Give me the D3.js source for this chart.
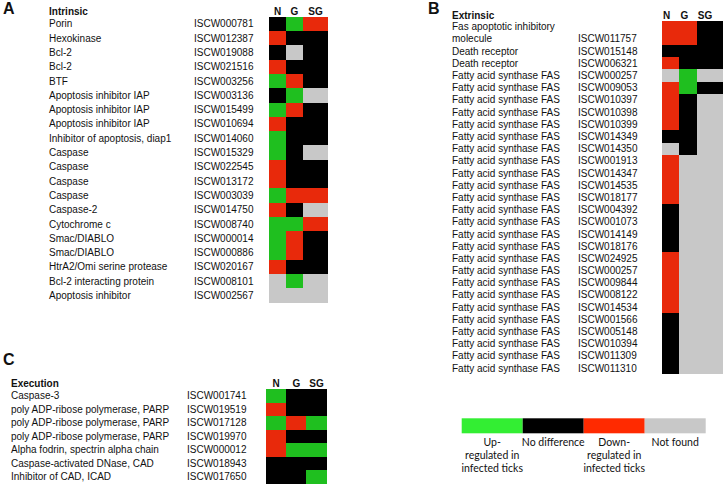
<!DOCTYPE html>
<html>
<head>
<meta charset="utf-8">
<script src="https://cdn.jsdelivr.net/npm/d3@7"></script>
<style>
  body { margin: 0; background: #fff; }
  svg text { font-family: "Liberation Sans", Arial, sans-serif; fill: #111; }
</style>
</head>
<body>
<svg id="chart" width="723" height="484"></svg>
<script>
// up = up-regulated, no = no difference, down = down-regulated, nf = not found
var columns = ["N", "G", "SG"];

var intrinsicLabels = ["Porin", "Hexokinase", "Bcl-2", "Bcl-2", "BTF", "Apoptosis inhibitor IAP",
    "Apoptosis inhibitor IAP", "Apoptosis inhibitor IAP", "Inhibitor of apoptosis, diap1", "Caspase",
    "Caspase", "Caspase", "Caspase", "Caspase-2", "Cytochrome c", "Smac/DIABLO", "Smac/DIABLO",
    "HtrA2/Omi serine protease", "Bcl-2 interacting protein", "Apoptosis inhibitor"];
var intrinsicIds = ["ISCW000781", "ISCW012387", "ISCW019088", "ISCW021516", "ISCW003256", "ISCW003136",
    "ISCW015499", "ISCW010694", "ISCW014060", "ISCW015329", "ISCW022545", "ISCW013172", "ISCW003039",
    "ISCW014750", "ISCW008740", "ISCW000014", "ISCW000886", "ISCW020167", "ISCW008101", "ISCW002567"];
var intrinsicN  = ["no","down","no","down","up","no","up","down","up","up","down","down","up","down","up","up","up","down","nf","nf"];
var intrinsicG  = ["up","no","nf","no","down","up","down","no","no","no","no","no","down","no","up","down","down","no","up","nf"];
var intrinsicSG = ["down","no","no","no","no","nf","no","no","no","nf","no","no","down","nf","down","no","no","no","nf","nf"];

var extrinsicLabels = ["Fas apoptotic inhibitory\nmolecule", "Death receptor", "Death receptor"]
    .concat(d3.range(25).map(function () { return "Fatty acid synthase FAS"; }));
var extrinsicIds = ["ISCW011757", "ISCW015148", "ISCW006321", "ISCW000257", "ISCW009053", "ISCW010397",
    "ISCW010398", "ISCW010399", "ISCW014349", "ISCW014350", "ISCW001913", "ISCW014347", "ISCW014535",
    "ISCW018177", "ISCW004392", "ISCW001073", "ISCW014149", "ISCW018176", "ISCW024925", "ISCW000257",
    "ISCW009844", "ISCW008122", "ISCW014534", "ISCW001566", "ISCW005148", "ISCW010394", "ISCW011309",
    "ISCW011310"];
var extrinsicN  = ["down","no","down","nf","down","down","down","down","no","nf","down","down","down","down",
    "no","no","no","no","down","down","down","down","down","no","no","no","no","no"];
var extrinsicG  = ["down","no","no","up","up","no","no","no","no","no","nf","nf","nf","nf",
    "nf","nf","nf","nf","nf","nf","nf","nf","nf","nf","nf","nf","nf","nf"];
var extrinsicSG = ["no","no","no","nf","no","nf","nf","nf","nf","nf","nf","nf","nf","nf",
    "nf","nf","nf","nf","nf","nf","nf","nf","nf","nf","nf","nf","nf","nf"];

var executionLabels = ["Caspase-3", "poly ADP-ribose polymerase, PARP", "poly ADP-ribose polymerase, PARP",
    "poly ADP-ribose polymerase, PARP", "Alpha fodrin, spectrin alpha chain", "Caspase-activated DNase, CAD",
    "Inhibitor of CAD, ICAD"];
var executionIds = ["ISCW001741", "ISCW019519", "ISCW017128", "ISCW019970", "ISCW000012", "ISCW018943", "ISCW017650"];
var executionN  = ["up","down","up","down","down","no","no"];
var executionG  = ["no","no","down","no","up","no","no"];
var executionSG = ["no","no","up","no","up","no","up"];

var legendKeys = ["up", "no", "down", "nf"];
var legendLabels = ["Up-\nregulated in\ninfected ticks", "No difference", "Down-\nregulated in\ninfected ticks", "Not found"];

var heatColor = d3.scaleOrdinal().domain(legendKeys).range(["#1fbf1f", "#000000", "#e8290b", "#c8c8c8"]);
var legendColor = d3.scaleOrdinal().domain(legendKeys).range(["#33ee33", "#000000", "#ff2a00", "#c8c8c8"]);

var svg = d3.select("svg#chart");

function draw_panel(p)
{
    var g = svg.append("g");

    // each row takes as many units as its label has lines
    var spans = p.labels.map(function (l) { return l.split("\n").length; });
    var starts = [];
    var acc = 0;
    spans.forEach(function (s) { starts.push(acc); acc += s; });
    var y = d3.scaleLinear().domain([0, acc]).range([p.top, p.top + acc * p.unit]);

    // columns, SG may be wider
    var widths = [1, 1, p.sgWeight];
    var cum = [0, 1, 2, 2 + p.sgWeight];
    var x = d3.scaleLinear().domain([0, cum[3]]).range([p.x0, p.x1]);

    g.append("text")
        .attr("x", p.letterX).attr("y", p.letterY)
        .attr("font-size", "16px").attr("font-weight", "bold")
        .text(p.letter);
    g.append("text")
        .attr("x", p.labelX).attr("y", p.headY)
        .attr("font-size", "10px").attr("font-weight", "bold")
        .text(p.title);

    g.selectAll("text.col")
        .data(columns)
        .enter().append("text")
        .attr("class", "col")
        .attr("x", function (d, i) {
            return p.headAnchor === "start" ? x(cum[i]) + 1 : (x(cum[i]) + x(cum[i + 1])) / 2;
        })
        .attr("y", p.headY)
        .attr("text-anchor", p.headAnchor)
        .attr("font-size", "10px").attr("font-weight", "bold")
        .text(function (d) { return d; });

    var cells = [];
    p.values.forEach(function (vals, ci) {
        vals.forEach(function (v, ri) { cells.push({col: ci, row: ri, v: v}); });
    });

    g.selectAll("rect")
        .data(cells)
        .enter().append("rect")
        .attr("x", function (d) { return x(cum[d.col]); })
        .attr("width", function (d) { return x(cum[d.col + 1]) - x(cum[d.col]); })
        .attr("y", function (d) { return y(starts[d.row]); })
        .attr("height", function (d) { return y(starts[d.row] + spans[d.row]) - y(starts[d.row]); })
        .attr("fill", function (d) { return heatColor(d.v); })
        .attr("shape-rendering", "crispEdges");

    // gene names, one line per unit
    p.labels.forEach(function (l, i) {
        l.split("\n").forEach(function (line, k) {
            g.append("text")
                .attr("x", p.labelX)
                .attr("y", y(starts[i] + k + 0.5) + 3.5)
                .attr("font-size", "10px")
                .text(line);
        });
    });

    g.selectAll("text.id")
        .data(p.ids)
        .enter().append("text")
        .attr("class", "id")
        .attr("x", p.idX)
        .attr("y", function (d, i) { return y(starts[i] + spans[i] - 0.5) + 3.5; })
        .attr("font-size", "10px")
        .text(function (d) { return d; });
}

function draw_legend()
{
    var x = d3.scaleBand().domain(legendKeys).range([461.7, 705.7]);
    var g = svg.append("g");
    g.selectAll("rect")
        .data(legendKeys)
        .enter().append("rect")
        .attr("x", function (d) { return x(d); })
        .attr("y", 418.3)
        .attr("width", x.bandwidth())
        .attr("height", 15)
        .attr("fill", function (d) { return legendColor(d); });

    legendKeys.forEach(function (k, i) {
        legendLabels[i].split("\n").forEach(function (line, j) {
            g.append("text")
                .attr("x", x(k) + x.bandwidth() / 2)
                .attr("y", 445.5 + j * 13)
                .attr("text-anchor", "middle")
                .style("font-family", "Lato, 'Open Sans', sans-serif")
                .attr("font-size", "10.5px")
                .text(line);
        });
    });
}

draw_panel({
    letter: "A", letterX: 3, letterY: 14, title: "Intrinsic",
    labels: intrinsicLabels, ids: intrinsicIds, values: [intrinsicN, intrinsicG, intrinsicSG],
    labelX: 49, idX: 194, headY: 15.3, headAnchor: "middle",
    x0: 269, x1: 328, sgWeight: 1.47, top: 16.7, unit: 14.3
});
draw_panel({
    letter: "B", letterX: 428, letterY: 14, title: "Extrinsic",
    labels: extrinsicLabels, ids: extrinsicIds, values: [extrinsicN, extrinsicG, extrinsicSG],
    labelX: 452, idX: 578, headY: 19.3, headAnchor: "start",
    x0: 662, x1: 723, sgWeight: 1.5, top: 20.7, unit: 12.19
});
draw_panel({
    letter: "C", letterX: 3, letterY: 365, title: "Execution",
    labels: executionLabels, ids: executionIds, values: [executionN, executionG, executionSG],
    labelX: 11, idX: 187, headY: 387, headAnchor: "middle",
    x0: 266, x1: 326.7, sgWeight: 1, top: 389, unit: 13.5
});
draw_legend();
</script>
</body>
</html>
